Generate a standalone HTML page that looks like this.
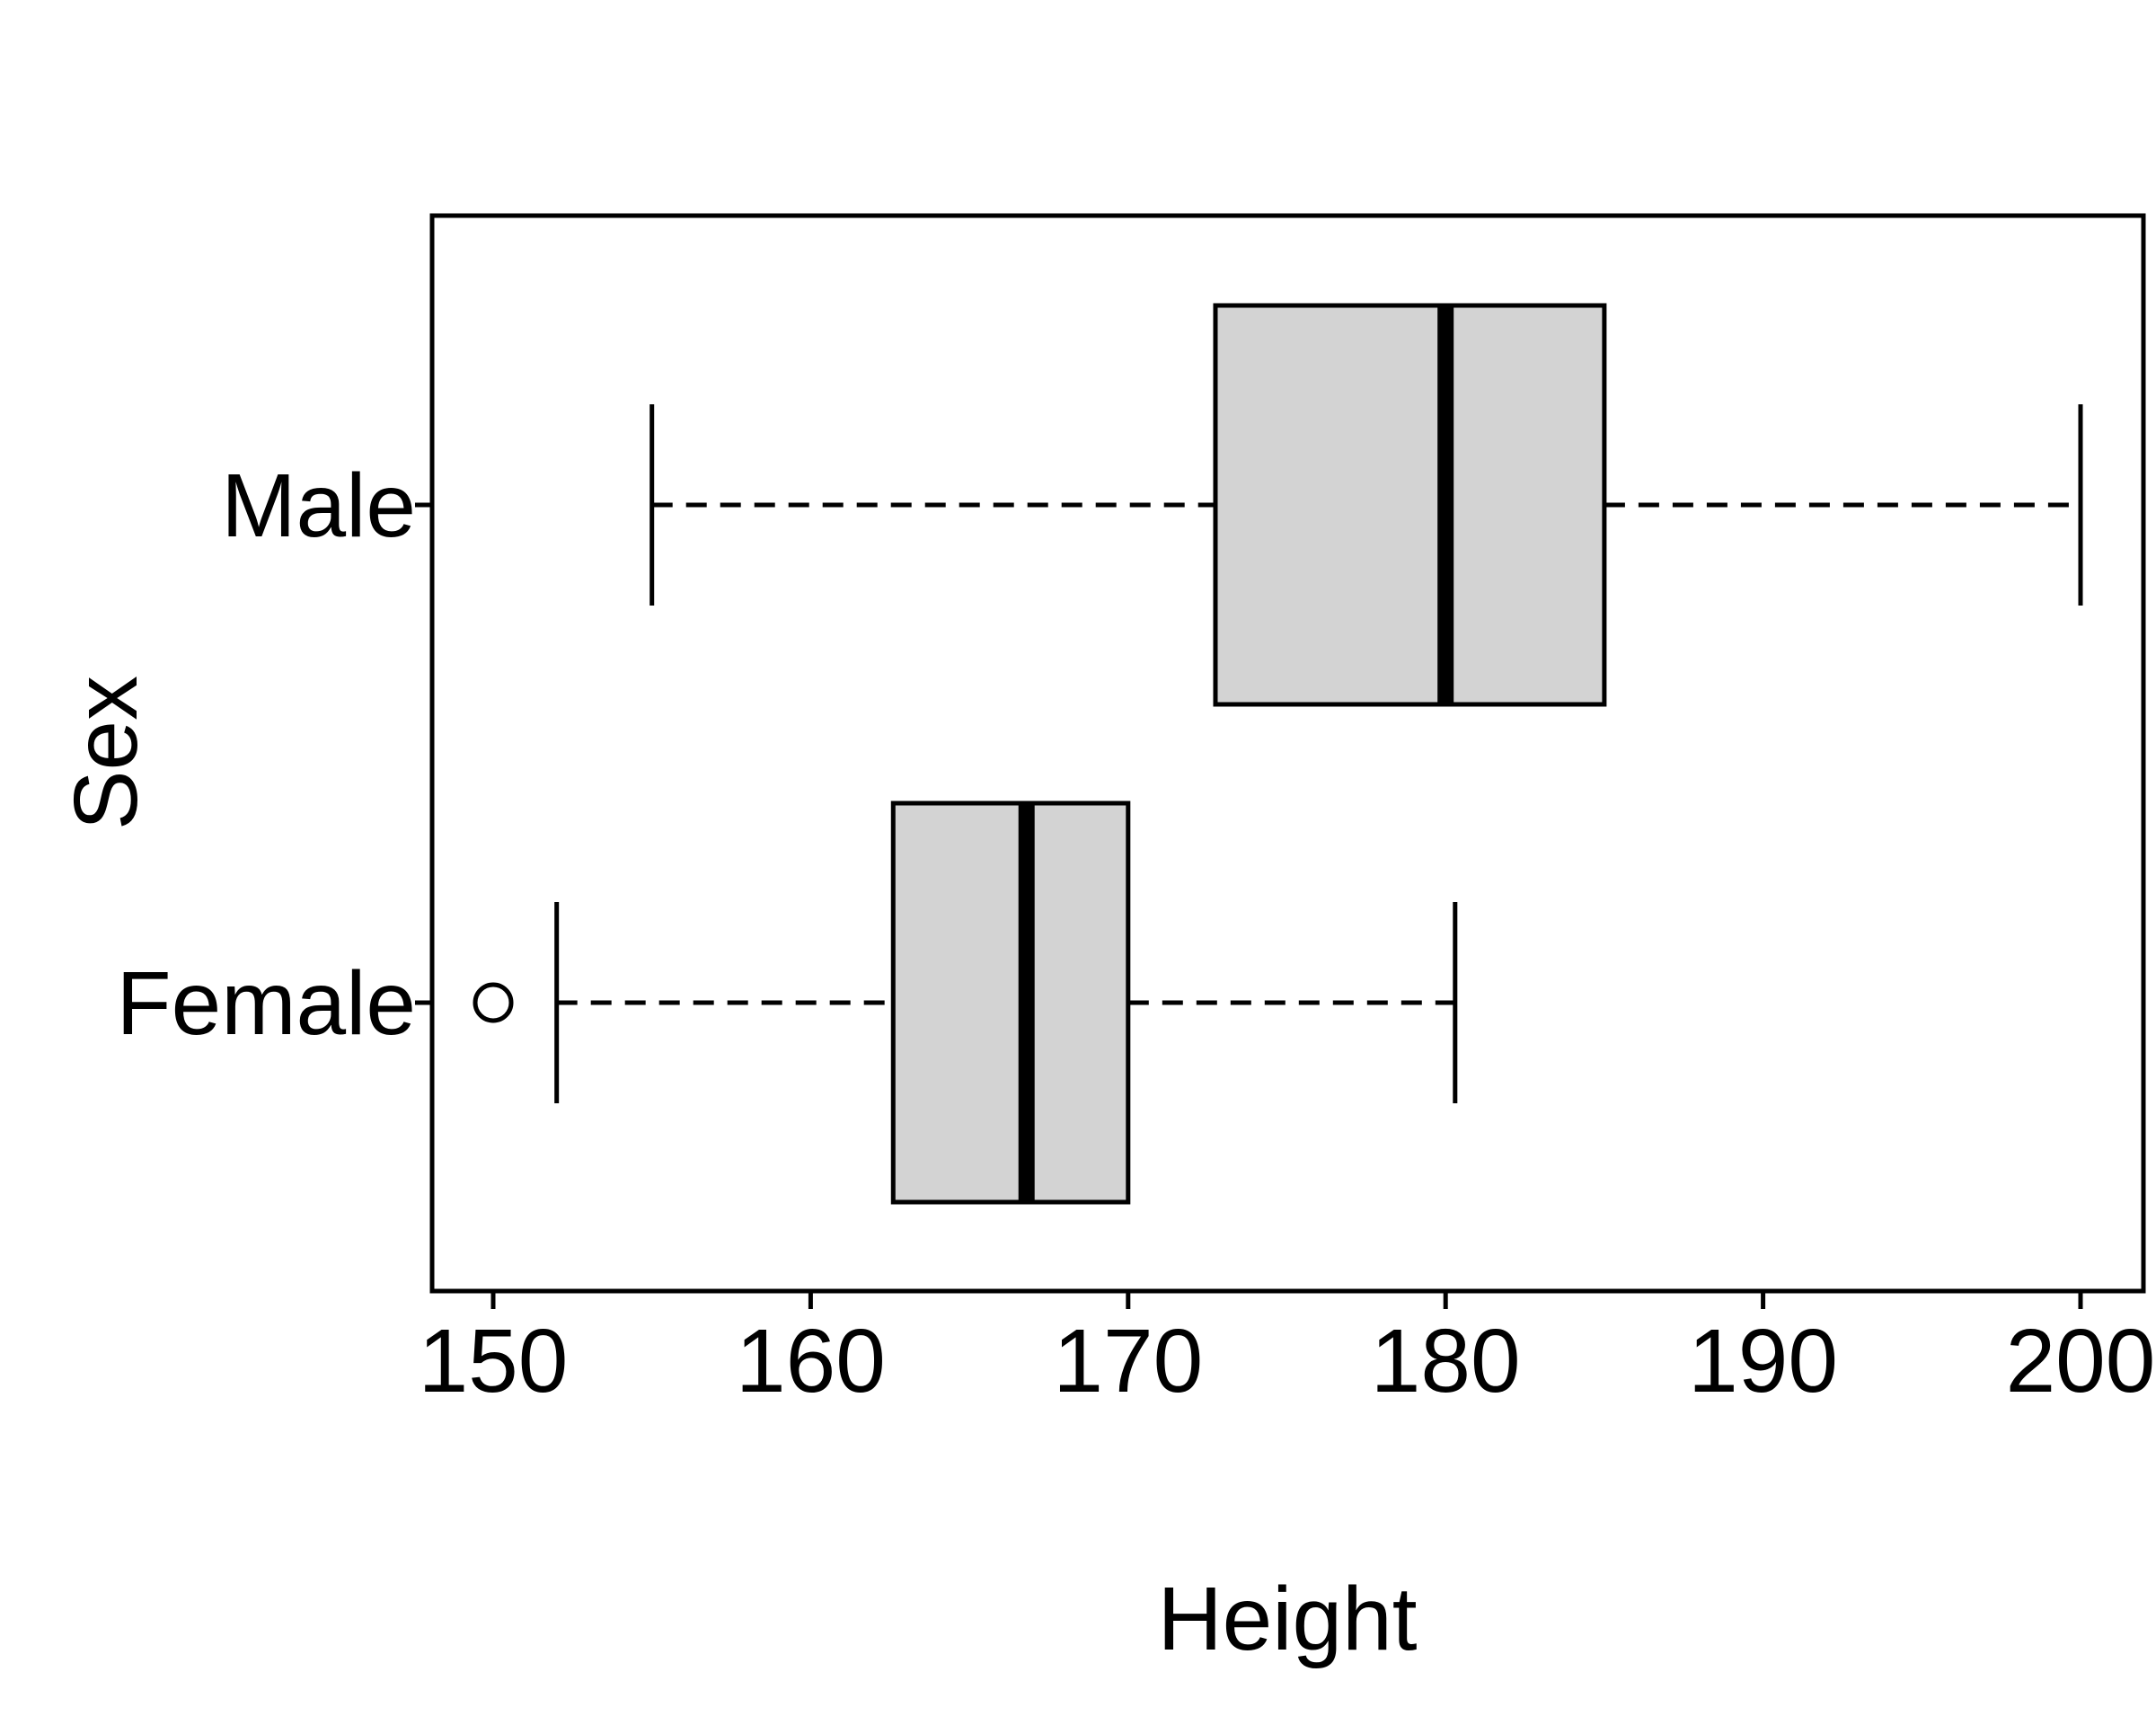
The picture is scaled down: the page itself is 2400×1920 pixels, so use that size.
<!DOCTYPE html>
<html><head><meta charset="utf-8"><style>body{margin:0;background:#fff}svg{display:block}</style></head>
<body>
<svg id="chart" width="2400" height="1920" xmlns="http://www.w3.org/2000/svg" font-family="Liberation Sans, sans-serif">
<rect width="2400" height="1920" fill="#fff"/>
<g id="plot"></g>
</svg>
<script>
const categories = ["Female", "Male"];
const lowWhisker = [152.0, 155.0];
const q1 = [162.6, 172.75];
const medians = [166.8, 180.0];
const q3 = [170.0, 185.0];
const highWhisker = [180.3, 200.0];
const outliersFemale = [150.0];
const outliersMale = [];
const xTicks = [150, 160, 170, 180, 190, 200];

const NS = "http://www.w3.org/2000/svg";
const g = document.getElementById('plot');
const L = 481, R = 2386, T = 240, B = 1437;
const xs = v => 549 + (v - 150) * (2316 - 549) / 50;
const ys = i => [1116, 562][i];
const halfH = 222, capH = 112;
const SW = 5;
function el(tag, attrs, parent) {
  const e = document.createElementNS(NS, tag);
  for (const k in attrs) e.setAttribute(k, attrs[k]);
  (parent || g).appendChild(e);
  return e;
}
const frame = el('rect', {x: L, y: T, width: R - L, height: B - T, fill: 'none', stroke: '#000', 'stroke-width': SW});



const outliers = [outliersFemale, outliersMale];
categories.forEach((c, i) => {
  const y = ys(i);
  const grp = el('g', {});
  
  
  const w1 = el('line', {x1: xs(lowWhisker[i]), x2: xs(q1[i]), y1: y, y2: y, stroke: '#000', 'stroke-width': SW, 'stroke-dasharray': '23 15'}, grp);
  
  
  const w2 = el('line', {x1: xs(q3[i]), x2: xs(highWhisker[i]), y1: y, y2: y, stroke: '#000', 'stroke-width': SW, 'stroke-dasharray': '23 15'}, grp);
  
  
  [lowWhisker[i], highWhisker[i]].forEach(v => {
    const cap = el('line', {x1: xs(v), x2: xs(v), y1: y - capH, y2: y + capH, stroke: '#000', 'stroke-width': SW}, grp);
    
    
  });
  const box = el('rect', {x: xs(q1[i]), y: y - halfH, width: xs(q3[i]) - xs(q1[i]), height: 2 * halfH, fill: '#d3d3d3', stroke: '#000', 'stroke-width': SW}, grp);
  
  
  const med = el('line', {x1: xs(medians[i]), x2: xs(medians[i]), y1: y - halfH, y2: y + halfH, stroke: '#000', 'stroke-width': 18}, grp);
  
  
  outliers[i].forEach(v => {
    const o = el('circle', {cx: xs(v), cy: y, r: 20, fill: 'none', stroke: '#000', 'stroke-width': SW}, grp);
    
    
  });
  const tk = el('line', {x1: L, x2: L - 19, y1: y, y2: y, stroke: '#000', 'stroke-width': SW});
  
  
  const lb = el('text', {x: L - 18, y: y + 35, 'text-anchor': 'end', 'font-size': 100});
  lb.textContent = c;
  
  
});
xTicks.forEach(v => {
  const tk = el('line', {x1: xs(v), x2: xs(v), y1: B, y2: B + 20, stroke: '#000', 'stroke-width': SW});
  
  
  const lb = el('text', {x: xs(v), y: 1549, 'text-anchor': 'middle', 'font-size': 100});
  lb.textContent = v;
  
  
});
const xt = el('text', {x: 1433, y: 1836, 'text-anchor': 'middle', 'font-size': 100});
xt.textContent = 'Height';


const yt = el('text', {x: 0, y: 0, 'text-anchor': 'middle', 'font-size': 100, transform: 'translate(152,838) rotate(-90)'});
yt.textContent = 'Sex';


</script>
</body></html>
